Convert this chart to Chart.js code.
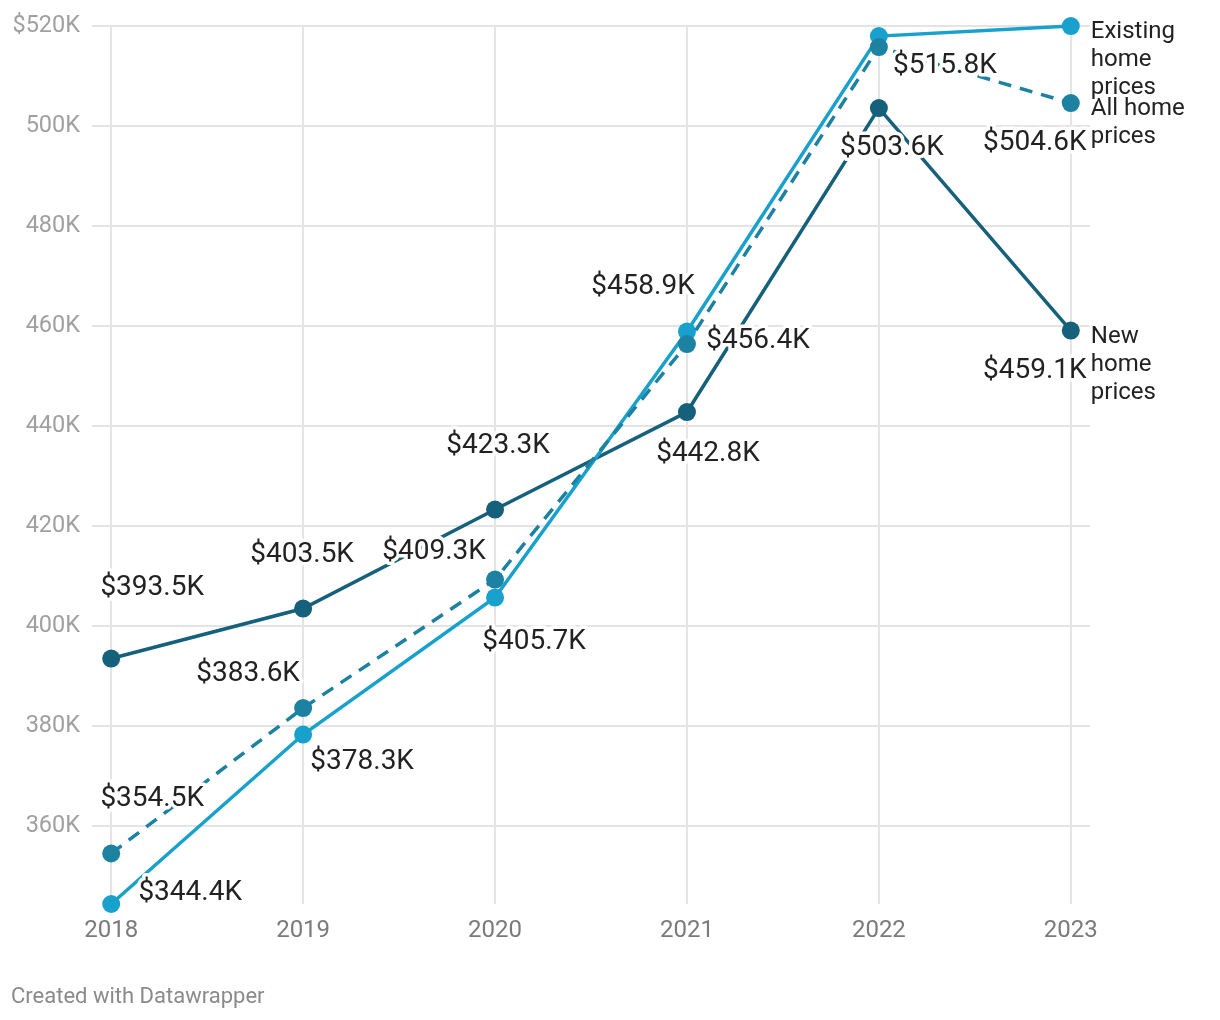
<!DOCTYPE html>
<html lang="en">

<head>
  <meta charset="UTF-8">
  <title>Home prices</title>
  <script src="https://cdn.jsdelivr.net/npm/chart.js"></script>
  <style>
    body { margin: 0; background: #fff; }
    #wrap { position: relative; width: 1220px; height: 1020px; }
    #credit { position: absolute; left: 11px; top: 983px; font: 22px Roboto, sans-serif; color: #8a8a8a; }
  </style>
</head>

<body>
  <div id="wrap">
    <canvas id="priceChart" width="1220" height="1020"></canvas>
    <div id="credit">Created with Datawrapper</div>
  </div>
  <script>
    // values in thousands of dollars
    var years = [2018, 2019, 2020, 2021, 2022, 2023];
    var newHome = [393.5, 403.5, 423.3, 442.8, 503.6, 459.1];
    var allHome = [354.5, 383.6, 409.3, 456.4, 515.8, 504.6];
    var existingHome = [344.4, 378.3, 405.7, 458.9, 518.0, 520.0];
    var yTicks = [360, 380, 400, 420, 440, 460, 480, 500, 520];
    var seriesNames = ['All home prices', 'Existing home prices', 'New home prices'];

    function toPoints(vals) {
      return vals.map(function (v, i) { return { x: years[i], y: v }; });
    }

    // label offsets from each point (center of text), null = no label
    var labelOffsets = [
      [[41, -55], [-55, -34], [-61, -28], [71, -3], [66, 19], [-36, 40]],
      [[79, -11], [59, 27], [39, 44], [-44, -45], null, null],
      [[41, -71], [-1, -54], [3, -64], [21, 42], [13, 40], [-36, 40]]
    ];
    // series name lines, shown right of the last point
    var nameLines = [['All home', 'prices'], ['Existing', 'home', 'prices'], ['New', 'home', 'prices']];

    var labelPlugin = {
      id: 'dwLabels',
      afterDatasetsDraw: function (chart) {
        var ctx = chart.ctx;
        ctx.save();
        ctx.textBaseline = 'middle';
        ctx.lineJoin = 'round';
        chart.data.datasets.forEach(function (ds, di) {
          var meta = chart.getDatasetMeta(di);
          ctx.textAlign = 'center';
          ctx.font = '28px Roboto';
          meta.data.forEach(function (pt, i) {
            var off = labelOffsets[di][i];
            if (!off) return;
            var txt = '$' + ds.data[i].y.toFixed(1) + 'K';
            var x = pt.x + off[0], y = pt.y + off[1];
            ctx.strokeStyle = '#fff';
            ctx.lineWidth = 7;
            ctx.strokeText(txt, x, y);
            ctx.fillStyle = '#222';
            ctx.fillText(txt, x, y);
          });
          var last = meta.data[meta.data.length - 1];
          ctx.textAlign = 'left';
          ctx.font = '24px Roboto';
          nameLines[di].forEach(function (line, k) {
            var x = last.x + 20, y = last.y + 6 + k * 28;
            ctx.strokeStyle = '#fff';
            ctx.lineWidth = 6;
            ctx.strokeText(line, x, y);
            ctx.fillStyle = '#222';
            ctx.fillText(line, x, y);
          });
        });
        ctx.restore();
      }
    };

    function series(label, vals, color, dash) {
      return {
        label: label,
        data: toPoints(vals),
        borderColor: color,
        backgroundColor: color,
        borderWidth: 3.5,
        borderDash: dash,
        pointRadius: 9,
        pointBorderWidth: 0,
        pointHoverRadius: 9,
        tension: 0,
        clip: false
      };
    }

    new Chart(document.getElementById('priceChart'), {
      type: 'line',
      data: {
        datasets: [
          series(seriesNames[0], allHome, '#1d81a2', [13, 9]),
          series(seriesNames[1], existingHome, '#18a1cd', []),
          series(seriesNames[2], newHome, '#15607a', [])
        ]
      },
      options: {
        responsive: false,
        animation: false,
        layout: { padding: { top: 22, right: 130, bottom: 46, left: 0 } },
        plugins: { legend: { display: false }, tooltip: { enabled: false } },
        scales: {
          x: {
            type: 'linear',
            min: 2017.9,
            max: 2023.1,
            afterBuildTicks: function (s) { s.ticks = years.map(function (v) { return { value: v }; }); },
            afterFit: function (s) { s.height = 70; },
            border: { display: false },
            grid: { color: '#e4e4e4', lineWidth: 2, drawTicks: false },
            ticks: {
              padding: 13,
              color: '#7a7a7a',
              font: { family: 'Roboto', size: 24 },
              callback: function (v) { return String(v); }
            }
          },
          y: {
            min: 344.4,
            max: 520,
            afterBuildTicks: function (s) { s.ticks = yTicks.map(function (v) { return { value: v }; }); },
            afterFit: function (s) { s.width = 92; },
            border: { display: false },
            grid: { color: '#e4e4e4', lineWidth: 2, drawTicks: false },
            ticks: {
              padding: 12,
              color: '#a0a0a0',
              font: { family: 'Roboto', size: 23.5 },
              callback: function (v) { return (v === 520 ? '$' : '') + v + 'K'; }
            }
          }
        }
      },
      plugins: [labelPlugin]
    });
  </script>
</body>

</html>
